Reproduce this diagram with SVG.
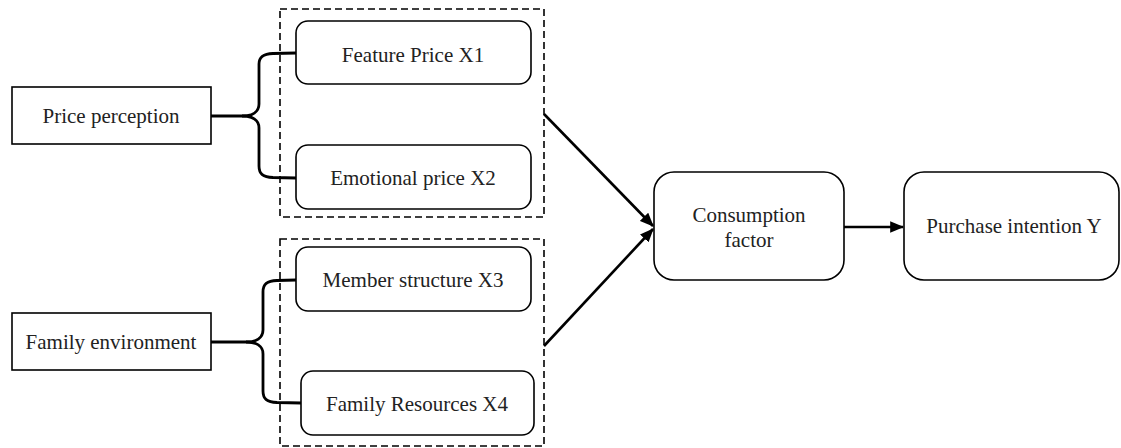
<svg xmlns="http://www.w3.org/2000/svg" width="1121" height="448" viewBox="0 0 1121 448">
<defs>
<style>
.box{fill:#fff;stroke:#000;stroke-width:1.6}
.dash{fill:none;stroke:#000;stroke-width:1.6;stroke-dasharray:7 4}
.brace{fill:none;stroke:#000;stroke-width:2.8;stroke-linejoin:round}
.arrow{fill:none;stroke:#000;stroke-width:2.6}
text{font-family:"Liberation Serif","Times New Roman",serif;font-size:21px;fill:#222;text-anchor:middle}
</style>
<marker id="ah" viewBox="0 0 12 10" refX="11" refY="5" markerUnits="userSpaceOnUse" markerWidth="14" markerHeight="12" orient="auto">
<path d="M0,0 L12,5 L0,10 Z" fill="#000"/>
</marker>
</defs>
<rect width="1121" height="448" fill="#fff"/>
<g id="group-price">
<rect class="dash" x="280" y="9" width="264" height="208"/>
</g>
<g id="group-family">
<rect class="dash" x="280" y="239" width="264" height="207"/>
</g>
<g id="price-perception">
<rect class="box" x="12" y="87" width="199" height="57"/>
<text x="111" y="123">Price perception</text>
</g>
<g id="family-environment">
<rect class="box" x="12" y="313" width="199" height="57"/>
<text x="111" y="349">Family environment</text>
</g>
<g id="feature-price">
<rect class="box" x="296" y="21" width="235" height="63" rx="12"/>
<text x="413" y="62">Feature Price X1</text>
</g>
<g id="emotional-price">
<rect class="box" x="296" y="145" width="235" height="64" rx="12"/>
<text x="413" y="185">Emotional price X2</text>
</g>
<g id="member-structure">
<rect class="box" x="296" y="247" width="235" height="64" rx="12"/>
<text x="413" y="287">Member structure X3</text>
</g>
<g id="family-resources">
<rect class="box" x="301" y="371" width="233" height="64" rx="12"/>
<text x="417" y="411">Family Resources X4</text>
</g>
<g id="consumption-factor">
<rect class="box" x="654" y="172" width="190" height="108" rx="20"/>
<text x="749" y="222">Consumption</text>
<text x="749" y="247">factor</text>
</g>
<g id="purchase-intention">
<rect class="box" x="904" y="172" width="215" height="108" rx="20"/>
<text x="1014" y="233">Purchase intention Y</text>
</g>
<g id="connectors">
<path class="brace" d="M211,116 L242,116 C252,116 259,112 259,104 L259,64 C259,57 263,54 273,53.5 L296,53"/>
<path class="brace" d="M242,116 C252,116 259,120 259,128 L259,166 C259,174 263,177 273,177.5 L296,178"/>
<path class="brace" d="M211,342 L246,342 C256,342 263,338 263,330 L263,292 C263,284 267,281 277,280.5 L296,280"/>
<path class="brace" d="M246,342 C256,342 263,346 263,354 L263,391 C263,399 267,402 277,402.5 L301,403"/>
<line class="arrow" x1="544" y1="114" x2="653" y2="226" marker-end="url(#ah)"/>
<line class="arrow" x1="544" y1="346" x2="653" y2="229" marker-end="url(#ah)"/>
<line class="arrow" x1="844" y1="227" x2="903" y2="227" marker-end="url(#ah)"/>
</g>
</svg>
